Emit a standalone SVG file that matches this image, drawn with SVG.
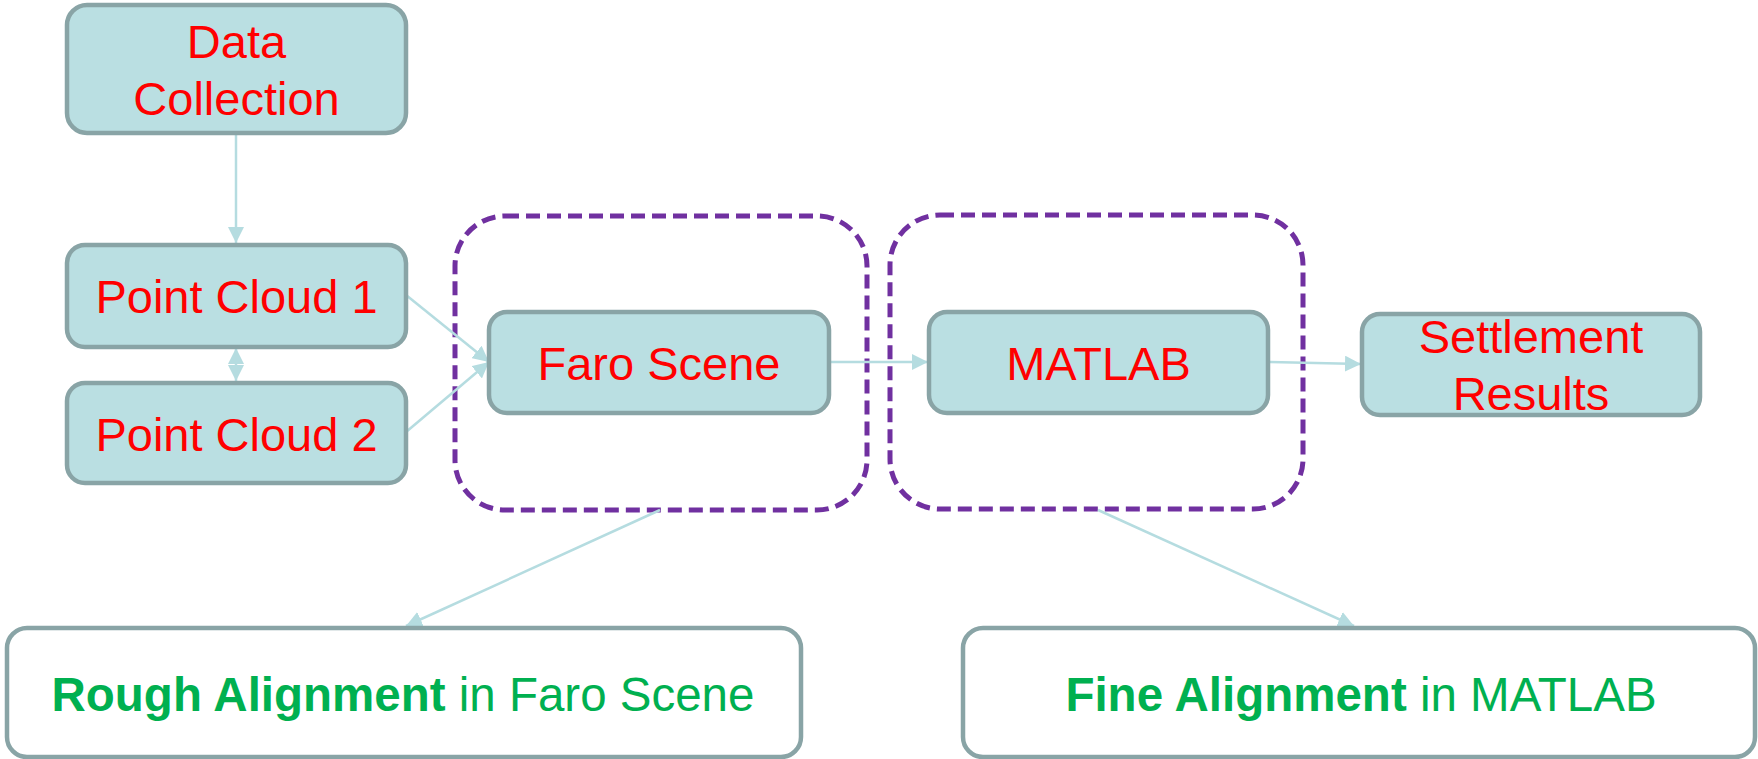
<svg xmlns="http://www.w3.org/2000/svg" width="1758" height="759" viewBox="0 0 1758 759">
<style>
.node{fill:#BADFE2;stroke:#89A4A6;stroke-width:4.5}
.out{fill:#FFFFFF;stroke:#89A4A6;stroke-width:4.5}
.grp{fill:none;stroke:#7030A0;stroke-width:5;stroke-dasharray:14 7}
.lbl{font-family:"Liberation Sans",Arial,sans-serif;font-size:47px;fill:#FF0000;text-anchor:middle}
.note{font-family:"Liberation Sans",Arial,sans-serif;font-size:47.5px;fill:#00B050;text-anchor:middle}
.edge{fill:none;stroke:#B5DCE0;stroke-width:2.5}
</style>
<defs>
<marker id="ah" markerUnits="userSpaceOnUse" markerWidth="16" markerHeight="16" refX="16" refY="8" orient="auto-start-reverse" viewBox="0 0 16 16">
<path d="M0,0 L16,8 L0,16 z" fill="#B5DCE0"/>
</marker>
</defs>
<rect width="1758" height="759" fill="#FFFFFF"/>
<g id="group-faro"><rect class="grp" x="455" y="216" width="412" height="294" rx="50"/></g>
<g id="group-matlab"><rect class="grp" x="890" y="215" width="413" height="294" rx="50"/></g>
<g id="connectors">
<line class="edge" x1="236" y1="134" x2="236" y2="243" marker-end="url(#ah)"/>
<line class="edge" x1="236" y1="348" x2="236" y2="381" marker-start="url(#ah)" marker-end="url(#ah)"/>
<line class="edge" x1="406" y1="295" x2="489" y2="362" marker-end="url(#ah)"/>
<line class="edge" x1="406" y1="432" x2="489" y2="362" marker-end="url(#ah)"/>
<line class="edge" x1="830" y1="362" x2="928" y2="362" marker-end="url(#ah)"/>
<line class="edge" x1="1269" y1="362" x2="1361" y2="364" marker-end="url(#ah)"/>
<line class="edge" x1="660" y1="510" x2="406" y2="626" marker-end="url(#ah)"/>
<line class="edge" x1="1098" y1="510" x2="1354" y2="626" marker-end="url(#ah)"/>
</g>
<g id="data-collection"><rect class="node" x="67" y="5" width="339" height="128" rx="20"/><text class="lbl" x="236.5" y="58">Data</text><text class="lbl" x="236.5" y="115">Collection</text></g>
<g id="point-cloud-1"><rect class="node" x="67" y="245" width="339" height="102" rx="18"/><text class="lbl" x="236.5" y="313">Point Cloud 1</text></g>
<g id="point-cloud-2"><rect class="node" x="67" y="383" width="339" height="100" rx="18"/><text class="lbl" x="236.5" y="451">Point Cloud 2</text></g>
<g id="faro-scene"><rect class="node" x="489" y="312" width="340" height="101" rx="18"/><text class="lbl" x="659" y="380">Faro Scene</text></g>
<g id="matlab"><rect class="node" x="929" y="312" width="339" height="101" rx="18"/><text class="lbl" x="1098.5" y="380">MATLAB</text></g>
<g id="settlement-results"><rect class="node" x="1362" y="314" width="338" height="101" rx="18"/><text class="lbl" x="1531" y="353">Settlement</text><text class="lbl" x="1531" y="410">Results</text></g>
<g id="rough-alignment"><rect class="out" x="7" y="628" width="794" height="129" rx="20"/><text class="note" x="403" y="711"><tspan font-weight="bold">Rough Alignment</tspan> in Faro Scene</text></g>
<g id="fine-alignment"><rect class="out" x="963" y="628" width="792" height="129" rx="20"/><text class="note" x="1361" y="711"><tspan font-weight="bold">Fine Alignment</tspan> in MATLAB</text></g>
</svg>
